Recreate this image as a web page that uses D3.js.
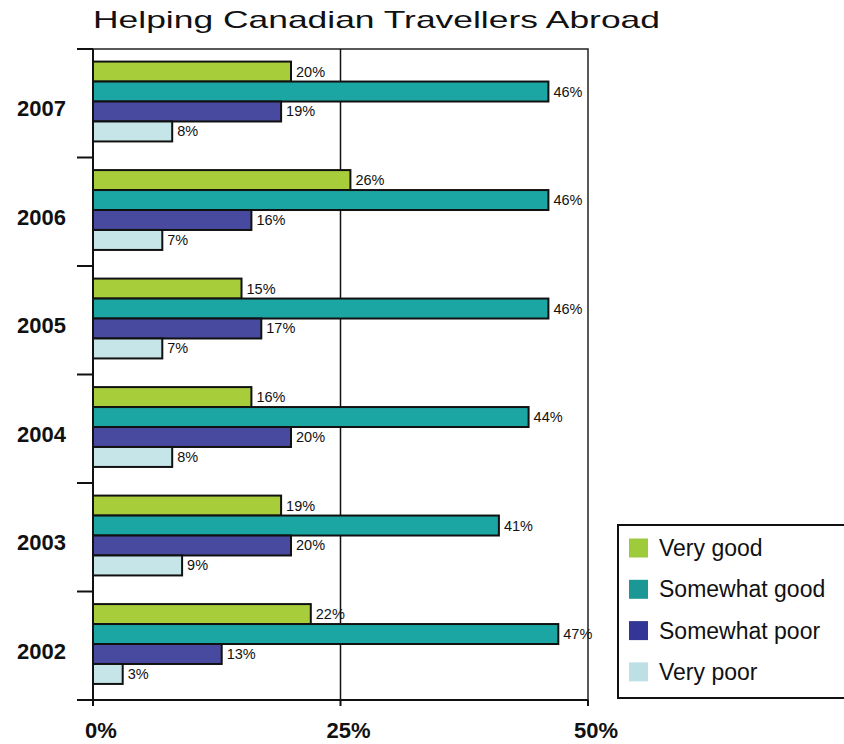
<!DOCTYPE html>
<html>
<head>
<meta charset="utf-8">
<script src="https://cdn.jsdelivr.net/npm/d3@7"></script>
<style>
  html, body { margin: 0; padding: 0; background: #fff; }
  svg { display: block; font-family: "Liberation Sans", Arial, sans-serif; }
</style>
</head>
<body>
<svg id="chart" width="844" height="744"></svg>
<script>
// Survey results by year (percent of respondents)
const years = ["2007", "2006", "2005", "2004", "2003", "2002"];
const seriesNames = ["Very good", "Somewhat good", "Somewhat poor", "Very poor"];
const veryGood     = [20, 26, 15, 16, 19, 22];
const somewhatGood = [46, 46, 46, 44, 41, 47];
const somewhatPoor = [19, 16, 17, 20, 20, 13];
const veryPoor     = [8, 7, 7, 8, 9, 3];
const xTicks = [0, 25, 50];
const barColors = ["#a8cd3a", "#1ca6a3", "#474a9e", "#c5e5e8"];
const legendColors = ["#9dcb3c", "#1b9895", "#333697", "#bde0e4"];

const seriesValues = [veryGood, somewhatGood, somewhatPoor, veryPoor];

const svg = d3.select("#chart");
const plot = { left: 93, right: 588, top: 49, bottom: 700 };

const x = d3.scaleLinear().domain([0, 50]).range([plot.left, plot.right]);
const y = d3.scaleBand().domain(years).range([plot.top, plot.bottom]);
const yInner = d3.scaleBand().domain(seriesNames)
  .range([y.bandwidth() * 0.116, y.bandwidth() * 0.852]);

// Title, set wide
svg.append("text")
  .attr("x", 93).attr("y", 28)
  .attr("font-size", 24)
  .attr("textLength", 567)
  .attr("lengthAdjust", "spacingAndGlyphs")
  .attr("fill", "#111")
  .text("Helping Canadian Travellers Abroad");

// Plot frame
svg.append("rect")
  .attr("x", plot.left).attr("y", plot.top)
  .attr("width", plot.right - plot.left).attr("height", plot.bottom - plot.top)
  .attr("fill", "none").attr("stroke", "#222").attr("stroke-width", 1.5);

// Vertical grid line at 25%
svg.append("line")
  .attr("x1", x(25)).attr("x2", x(25))
  .attr("y1", plot.top).attr("y2", plot.bottom)
  .attr("stroke", "#111").attr("stroke-width", 1.5);

// Bars and value labels
const groups = svg.selectAll("g.year")
  .data(years)
  .join("g")
  .attr("class", "year")
  .attr("transform", d => `translate(0,${y(d)})`);

groups.each(function (yr, i) {
  const g = d3.select(this);
  const rows = seriesNames.map((s, k) => ({ s, k, v: seriesValues[k][i] }));
  g.selectAll("rect")
    .data(rows)
    .join("rect")
    .attr("x", x(0))
    .attr("y", d => yInner(d.s))
    .attr("width", d => x(d.v) - x(0))
    .attr("height", yInner.bandwidth())
    .attr("fill", d => barColors[d.k])
    .attr("stroke", "#111")
    .attr("stroke-width", 2);
  g.selectAll("text.val")
    .data(rows)
    .join("text")
    .attr("class", "val")
    .attr("x", d => x(d.v) + 5)
    .attr("y", d => yInner(d.s) + yInner.bandwidth() / 2 + 5)
    .attr("font-size", 14.5)
    .attr("fill", "#111")
    .text(d => d.v + "%");
});

// Left axis: category labels with boundary ticks
const yBounds = years.map(d => y(d)).concat([plot.bottom]);
svg.selectAll("line.ytick")
  .data(yBounds)
  .join("line")
  .attr("class", "ytick")
  .attr("x1", plot.left - 16).attr("x2", plot.left)
  .attr("y1", d => d).attr("y2", d => d)
  .attr("stroke", "#111").attr("stroke-width", 2);
svg.append("line")
  .attr("x1", plot.left).attr("x2", plot.left)
  .attr("y1", plot.top).attr("y2", plot.bottom + 5)
  .attr("stroke", "#111").attr("stroke-width", 2);
svg.selectAll("text.ylab")
  .data(years)
  .join("text")
  .attr("class", "ylab")
  .attr("x", 66)
  .attr("y", d => y(d) + y.bandwidth() / 2 + 13)
  .attr("text-anchor", "end")
  .attr("font-size", 22)
  .attr("font-weight", "bold")
  .attr("fill", "#111")
  .text(d => d);

// Bottom axis
svg.append("line")
  .attr("x1", plot.left - 16).attr("x2", plot.right)
  .attr("y1", plot.bottom).attr("y2", plot.bottom)
  .attr("stroke", "#111").attr("stroke-width", 2);
svg.selectAll("line.xtick")
  .data(xTicks)
  .join("line")
  .attr("class", "xtick")
  .attr("x1", d => x(d)).attr("x2", d => x(d))
  .attr("y1", plot.bottom).attr("y2", plot.bottom + 6)
  .attr("stroke", "#111").attr("stroke-width", 2);
svg.selectAll("text.xlab")
  .data(xTicks)
  .join("text")
  .attr("class", "xlab")
  .attr("x", d => x(d) + 8)
  .attr("y", 738)
  .attr("text-anchor", "middle")
  .attr("font-size", 22)
  .attr("font-weight", "bold")
  .attr("fill", "#111")
  .text(d => d + "%");

// Legend
const legend = svg.append("g").attr("transform", "translate(618,525)");
legend.append("rect")
  .attr("x", 0).attr("y", 0)
  .attr("width", 240).attr("height", 173)
  .attr("fill", "#fff").attr("stroke", "#111").attr("stroke-width", 2);
const items = legend.selectAll("g.item")
  .data(seriesNames)
  .join("g")
  .attr("class", "item")
  .attr("transform", (d, i) => `translate(0,${23 + i * 41.3})`);
items.append("rect")
  .attr("x", 11).attr("y", -9.5)
  .attr("width", 19).attr("height", 19)
  .attr("fill", (d, i) => legendColors[i]);
items.append("text")
  .attr("x", 41).attr("y", 8)
  .attr("font-size", 23)
  .attr("fill", "#111")
  .text(d => d);
</script>
</body>
</html>
